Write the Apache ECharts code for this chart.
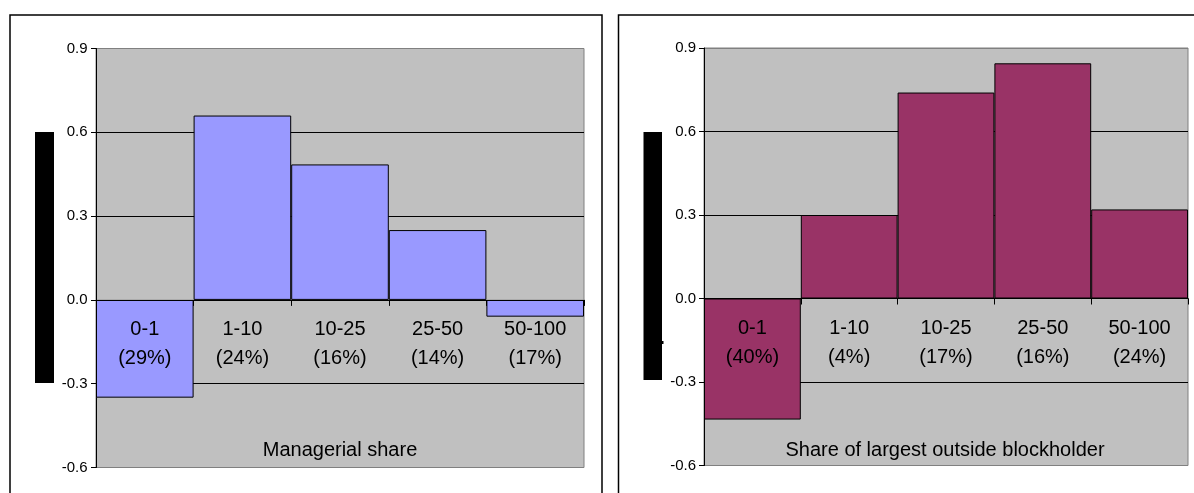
<!DOCTYPE html>
<html>
<head>
<meta charset="utf-8">
<script src="https://cdn.jsdelivr.net/npm/echarts@6/dist/echarts.min.js"></script>
<style>
  html, body { margin: 0; padding: 0; background: #fff; }
  #chart { width: 1194px; height: 493px; }
</style>
</head>
<body>
<div id="chart"></div>
<script>
// ---- data ----
const ranges = ['0-1', '1-10', '10-25', '25-50', '50-100'];
const leftShares = ['29%', '24%', '16%', '14%', '17%'];
const rightShares = ['40%', '4%', '17%', '16%', '24%'];
const leftValues = [-0.35, 0.66, 0.485, 0.25, -0.06];
const rightValues = [-0.435, 0.30, 0.74, 0.845, 0.32];
const yTicks = { min: -0.6, max: 0.9, interval: 0.3 };
const leftTitle = 'Managerial share';
const rightTitle = 'Share of largest outside blockholder';

const FONT = '"Liberation Sans", Arial, sans-serif';
const H = 493;
const grids = [
  { left: 96, right: 610, top: 48.5, bottom: 25.5 },
  { left: 704, right: 6, top: 48, bottom: 27.5 }
];
const leftCats = ranges.map((r, i) => r + '\n(' + leftShares[i] + ')');
const rightCats = ranges.map((r, i) => r + '\n(' + rightShares[i] + ')');

// place the category axis on the value 0 line
function zeroOffset(g) {
  const h = H - g.top - g.bottom;
  return -(0 - yTicks.min) / (yTicks.max - yTicks.min) * h;
}

function xAxisCfg(gridIndex, data) {
  return {
    type: 'category', gridIndex, data, z: 10, position: 'bottom',
    offset: zeroOffset(grids[gridIndex]),
    axisLine: { onZero: false, lineStyle: { color: '#000', width: 1 } },
    axisTick: { show: true, alignWithLabel: false, length: 6, lineStyle: { color: '#000' } },
    axisLabel: { color: '#000', fontFamily: FONT, fontSize: 20, lineHeight: 29, margin: 15, interval: 0 },
    splitLine: { show: false }
  };
}
function yAxisCfg(gridIndex, margin) {
  return {
    type: 'value', gridIndex, min: yTicks.min, max: yTicks.max, interval: yTicks.interval,
    axisLine: { show: true, lineStyle: { color: '#000', width: 1 } },
    axisTick: { show: true, length: 5, lineStyle: { color: '#000' } },
    axisLabel: { color: '#000', fontFamily: FONT, fontSize: 15, margin, formatter: v => v.toFixed(1) },
    splitLine: { show: true, lineStyle: { color: ['#808080', '#000', '#000', '#000', '#000', '#808080'], width: 1 } }
  };
}

const chart = echarts.init(document.getElementById('chart'), null, { renderer: 'canvas' });
chart.setOption({
  animation: false,
  backgroundColor: '#fff',
  grid: grids.map(g => Object.assign({}, g, {
    show: true, backgroundColor: '#C0C0C0', borderColor: '#808080', borderWidth: 1,
    containLabel: false, outerBoundsMode: 'none'
  })),
  xAxis: [xAxisCfg(0, leftCats), xAxisCfg(1, rightCats)],
  yAxis: [yAxisCfg(0, 8.5), yAxisCfg(1, 8)],
  series: [
    { type: 'bar', xAxisIndex: 0, yAxisIndex: 0, data: leftValues, barWidth: '100%', barCategoryGap: 0,
      itemStyle: { color: '#9999FF', borderColor: '#000', borderWidth: 1 } },
    { type: 'bar', xAxisIndex: 1, yAxisIndex: 1, data: rightValues, barWidth: '100%', barCategoryGap: 0,
      itemStyle: { color: '#993366', borderColor: '#000', borderWidth: 1 } }
  ],
  graphic: [
    { type: 'rect', shape: { x: 10, y: 15, width: 592, height: 500 }, style: { fill: 'none', stroke: '#000', lineWidth: 1.5 }, z: 0 },
    { type: 'rect', shape: { x: 618.5, y: 15, width: 600, height: 500 }, style: { fill: 'none', stroke: '#000', lineWidth: 1.5 }, z: 0 },
    { type: 'rect', shape: { x: 35, y: 132, width: 19, height: 251 }, style: { fill: '#000' } },
    { type: 'rect', shape: { x: 643.5, y: 132, width: 18.5, height: 248 }, style: { fill: '#000' } },
    { type: 'rect', shape: { x: 662, y: 341, width: 1.5, height: 3 }, style: { fill: '#000' } },
    { type: 'text', x: 340, y: 450, z: 20, style: { text: leftTitle, font: '20px ' + FONT, fill: '#000', align: 'center', verticalAlign: 'middle' } },
    { type: 'text', x: 945, y: 450, z: 20, style: { text: rightTitle, font: '20px ' + FONT, fill: '#000', align: 'center', verticalAlign: 'middle' } }
  ]
});
</script>
</body>
</html>
